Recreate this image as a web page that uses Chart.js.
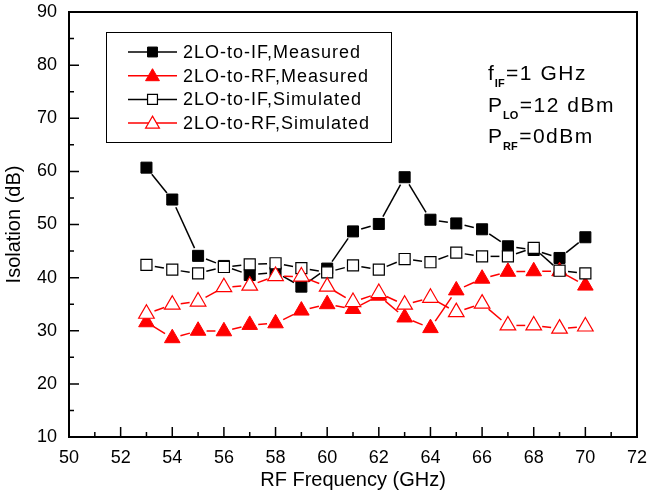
<!DOCTYPE html>
<html>
<head>
<meta charset="utf-8">
<script src="https://cdn.jsdelivr.net/npm/chart.js@4.4.1/dist/chart.umd.min.js"></script>
<style>
  html, body { margin: 0; padding: 0; background: #fff; }
  canvas { display: block; }
</style>
</head>
<body>
<canvas id="myChart" width="648" height="498"></canvas>
<script>
// RF frequency (GHz)
var freq = [53, 54, 55, 56, 57, 58, 59, 60, 61, 62, 63, 64, 65, 66, 67, 68, 69, 70];
// isolation (dB)
var measIF = [60.7, 54.7, 44.1, 42.2, 40.5, 41.0, 38.3, 41.7, 48.7, 50.1, 58.9, 50.9, 50.2, 49.1, 45.9, 45.2, 43.7, 47.6];
var measRF = [31.6, 28.6, 30.0, 29.9, 31.1, 31.4, 33.8, 35.0, 34.1, 36.6, 32.5, 30.5, 37.6, 39.8, 41.1, 41.2, 41.2, 38.5];
var simIF  = [42.4, 41.5, 40.8, 42.0, 42.5, 42.7, 41.8, 41.0, 42.3, 41.5, 43.5, 42.9, 44.7, 44.0, 44.0, 45.6, 41.3, 40.8];
var simRF  = [33.2, 34.9, 35.5, 38.2, 38.5, 40.3, 40.2, 38.3, 35.4, 37.1, 34.9, 36.2, 33.5, 35.1, 31.0, 31.0, 30.4, 30.8];

var seriesNames = ["2LO-to-IF,Measured", "2LO-to-RF,Measured", "2LO-to-IF,Simulated", "2LO-to-RF,Simulated"];
var xTicks = [50, 52, 54, 56, 58, 60, 62, 64, 66, 68, 70, 72];
var yTicks = [10, 20, 30, 40, 50, 60, 70, 80, 90];

function toPoints(vals) {
  var pts = [];
  for (var i = 0; i < freq.length; i++) {
    pts.push({x: freq[i], y: vals[i]});
  }
  return pts;
}

var FONT = "Arial, 'Liberation Sans', sans-serif";

// lines with a small gap next to each symbol, drawn under the symbols
var gapLines = {
  id: 'gapLines',
  beforeDatasetsDraw: function(chart) {
    var ctx = chart.ctx;
    chart.data.datasets.forEach(function(ds, di) {
      var pts = chart.getDatasetMeta(di).data;
      ctx.save();
      ctx.strokeStyle = ds.borderColor;
      ctx.lineWidth = 1.5;
      for (var i = 0; i < pts.length - 1; i++) {
        var a = pts[i], b = pts[i + 1];
        var dx = b.x - a.x, dy = b.y - a.y;
        var d = Math.sqrt(dx * dx + dy * dy);
        var g = 8.5;
        if (d <= 2 * g) continue;
        var ux = dx / d, uy = dy / d;
        ctx.beginPath();
        ctx.moveTo(a.x + ux * g, a.y + uy * g);
        ctx.lineTo(b.x - ux * g, b.y - uy * g);
        ctx.stroke();
      }
      ctx.restore();
    });
  }
};

// frame, inward ticks, legend box and the note
var decor = {
  id: 'decor',
  afterDraw: function(chart) {
    var ctx = chart.ctx;
    var a = chart.chartArea;
    var xs = chart.scales.x, ys = chart.scales.y;
    ctx.save();
    ctx.strokeStyle = '#000';
    ctx.lineWidth = 2;
    ctx.strokeRect(a.left, a.top, a.right - a.left, a.bottom - a.top);

    ctx.lineWidth = 1.5;
    ctx.beginPath();
    for (var i = 0; i < xTicks.length; i++) {
      var px = xs.getPixelForValue(xTicks[i]);
      ctx.moveTo(px, a.bottom); ctx.lineTo(px, a.bottom - 10);
      if (i < xTicks.length - 1) {
        var mx = xs.getPixelForValue((xTicks[i] + xTicks[i + 1]) / 2);
        ctx.moveTo(mx, a.bottom); ctx.lineTo(mx, a.bottom - 5);
      }
    }
    for (var j = 0; j < yTicks.length; j++) {
      var py = ys.getPixelForValue(yTicks[j]);
      ctx.moveTo(a.left, py); ctx.lineTo(a.left + 10, py);
      if (j < yTicks.length - 1) {
        var my = ys.getPixelForValue((yTicks[j] + yTicks[j + 1]) / 2);
        ctx.moveTo(a.left, my); ctx.lineTo(a.left + 5, my);
      }
    }
    ctx.stroke();

    // legend
    var lx = 106, ly = 32, lw = 285, lh = 110;
    ctx.fillStyle = '#fff';
    ctx.fillRect(lx, ly, lw, lh);
    ctx.lineWidth = 1;
    ctx.strokeStyle = '#000';
    ctx.strokeRect(lx + 0.5, ly + 0.5, lw, lh);
    chart.data.datasets.forEach(function(ds, k) {
      var ry = 52 + k * 23.7;
      ctx.strokeStyle = ds.borderColor;
      ctx.lineWidth = 1.5;
      ctx.beginPath();
      ctx.moveTo(128, ry); ctx.lineTo(177, ry);
      ctx.stroke();
      ctx.fillStyle = ds.pointBackgroundColor;
      ctx.strokeStyle = ds.pointBorderColor;
      ctx.lineWidth = ds.pointBorderWidth;
      Chart.helpers.drawPoint(ctx, {
        pointStyle: ds.pointStyle,
        radius: ds.pointStyle === 'rect' ? 7 : 8,
        borderWidth: ds.pointBorderWidth,
        rotation: 0
      }, 152.5, ry + (ds.pointStyle === 'rect' ? 0 : 1));
      ctx.fillStyle = '#000';
      ctx.font = "18px " + FONT;
      ctx.letterSpacing = '1px';
      ctx.textBaseline = 'middle';
      ctx.textAlign = 'left';
      ctx.fillText(ds.label, 183, ry + 1);
      ctx.letterSpacing = '0px';
    });

    // conditions note
    ctx.fillStyle = '#000';
    ctx.textBaseline = 'alphabetic';
    var rows = [["f", "IF", "=1 GHz", 80], ["P", "LO", "=12 dBm", 112], ["P", "RF", "=0dBm", 143]];
    rows.forEach(function(r) {
      var x = 488;
      ctx.font = "21px " + FONT;
      ctx.letterSpacing = '0px';
      ctx.fillText(r[0], x, r[3]);
      x += ctx.measureText(r[0]).width + 1;
      ctx.font = "bold 11px " + FONT;
      ctx.fillText(r[1], x, r[3] + 7);
      x += ctx.measureText(r[1]).width + 1.5;
      ctx.font = "21px " + FONT;
      ctx.letterSpacing = '1.5px';
      ctx.fillText(r[2], x, r[3]);
    });
    ctx.letterSpacing = '0px';
    ctx.restore();
  }
};

var ctx = document.getElementById("myChart");
var myChart = new Chart(ctx, {
  type: 'scatter',
  data: {
    datasets: [{
      label: seriesNames[0],
      data: toPoints(measIF),
      borderColor: '#000',
      pointStyle: 'rect',
      pointRadius: 7.8,
      pointBackgroundColor: '#000',
      pointBorderColor: '#000',
      pointBorderWidth: 1,
      order: 3
    }, {
      label: seriesNames[1],
      data: toPoints(measRF),
      borderColor: '#ff0000',
      pointStyle: 'triangle',
      pointRadius: 9,
      pointBackgroundColor: '#ff0000',
      pointBorderColor: '#ff0000',
      pointBorderWidth: 1,
      order: 2
    }, {
      label: seriesNames[2],
      data: toPoints(simIF),
      borderColor: '#000',
      pointStyle: 'rect',
      pointRadius: 7.8,
      pointBackgroundColor: '#fff',
      pointBorderColor: '#000',
      pointBorderWidth: 1.2,
      order: 1
    }, {
      label: seriesNames[3],
      data: toPoints(simRF),
      borderColor: '#ff0000',
      pointStyle: 'triangle',
      pointRadius: 9,
      pointBackgroundColor: '#fff',
      pointBorderColor: '#ff0000',
      pointBorderWidth: 1.2,
      order: 0
    }]
  },
  options: {
    responsive: false,
    animation: false,
    layout: { padding: { top: 12, right: 11, left: 0, bottom: 0 } },
    plugins: { legend: { display: false }, tooltip: { enabled: false } },
    scales: {
      x: {
        type: 'linear',
        min: 50, max: 72,
        afterBuildTicks: function(axis) { axis.ticks = xTicks.map(function(v) { return {value: v}; }); },
        afterFit: function(axis) { axis.height = 61; axis.paddingLeft = 0; axis.paddingRight = 0; },
        grid: { display: false, drawTicks: false },
        border: { display: false },
        ticks: { color: '#000', padding: 10, maxRotation: 0, font: { family: FONT, size: 18 } },
        title: { display: true, text: 'RF Frequency (GHz)', color: '#000', padding: { top: 0, bottom: 6 }, font: { family: FONT, size: 20 } }
      },
      y: {
        type: 'linear',
        min: 10, max: 90,
        afterBuildTicks: function(axis) { axis.ticks = yTicks.map(function(v) { return {value: v}; }); },
        afterFit: function(axis) { axis.width = 69; axis.paddingTop = 0; axis.paddingBottom = 0; },
        grid: { display: false, drawTicks: false },
        border: { display: false },
        ticks: { color: '#000', padding: 12, font: { family: FONT, size: 18 } },
        title: { display: true, text: 'Isolation (dB)', color: '#000', padding: { top: 2, bottom: 0 }, font: { family: FONT, size: 20 } }
      }
    }
  },
  plugins: [gapLines, decor]
});
</script>
</body>
</html>
